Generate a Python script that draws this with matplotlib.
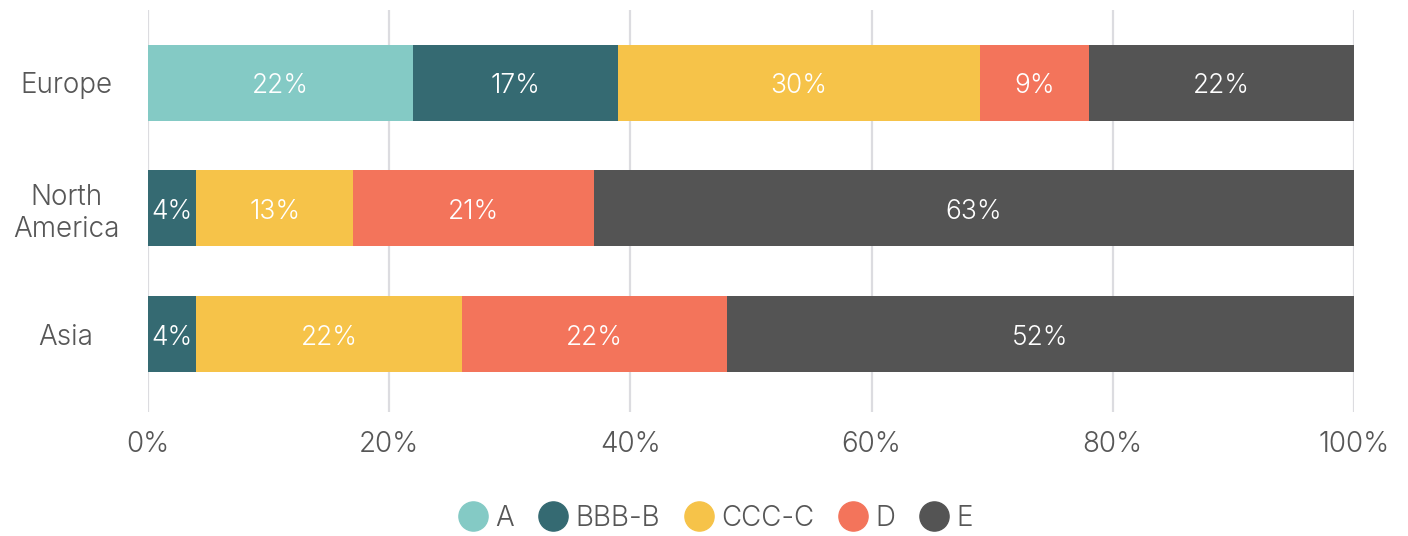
import matplotlib
matplotlib.use("Agg")
import matplotlib.pyplot as plt
from matplotlib.lines import Line2D
import numpy as np

FONT = ['Inter', 'DejaVu Sans']
W = 300
plt.rcParams['font.family'] = FONT

regions = ["Europe", "North\nAmerica", "Asia"]
series = ["A", "BBB-B", "CCC-C", "D", "E"]
values = {
    "A":     [22, 0, 0],
    "BBB-B": [17, 4, 4],
    "CCC-C": [30, 13, 22],
    "D":     [9, 20, 22],
    "E":     [22, 63, 52],
}
labels = {
    "A":     ["22%", "", ""],
    "BBB-B": ["17%", "4%", "4%"],
    "CCC-C": ["30%", "13%", "22%"],
    "D":     ["9%", "21%", "22%"],
    "E":     ["22%", "63%", "52%"],
}
colors = {"A": "#84CAC5", "BBB-B": "#356A72", "CCC-C": "#F6C349",
          "D": "#F3745B", "E": "#545454"}
xticks = [0, 20, 40, 60, 80, 100]
xticklabels = ["0%", "20%", "40%", "60%", "80%", "100%"]

fig = plt.figure(figsize=(14.08, 5.36), dpi=100)
ax = fig.add_axes([148/1408, 1-412/536, (1354-148)/1408, (412-10)/536])

y = np.arange(len(regions))
left = np.zeros(len(regions))
for s in series:
    v = np.array(values[s], dtype=float)
    ax.barh(y, v, left=left, height=0.605, color=colors[s], zorder=3)
    for i, (val, lab) in enumerate(zip(v, labels[s])):
        if val > 0 and lab:
            ax.annotate(lab, (left[i] + val/2, y[i]), xytext=(0, -2.5),
                        textcoords='offset points', ha='center', va='center',
                        color='white', fontsize=19, fontweight=W, zorder=4)
    left += v

ax.set_xlim(0, 100)
ax.set_ylim(2.62, -0.58)
ax.set_xticks(xticks)
ax.set_xticklabels(xticklabels, fontsize=20, fontweight=W, color='#575757')
ax.set_yticks(y)
ax.set_yticklabels(regions, fontsize=20, fontweight=W, color='#575757',
                   ha='center', linespacing=1.2)
ax.tick_params(axis='y', length=0, pad=59)
ax.tick_params(axis='x', length=0, pad=14)
for sp in ax.spines.values():
    sp.set_visible(False)
ax.xaxis.grid(True, color='#dcdce0', linewidth=1.6, zorder=0)
ax.set_axisbelow(True)

handles = [Line2D([0], [0], marker='o', linestyle='', markersize=21,
                  markerfacecolor=colors[s], markeredgecolor=colors[s])
           for s in series]
leg = fig.legend(handles, series, loc='center', bbox_to_anchor=(0.507, 1-518/536),
                 ncol=5, frameon=False, handletextpad=0.15, columnspacing=0.75,
                 handlelength=1.3,
                 prop={'family': FONT, 'size': 20, 'weight': W})
for t in leg.get_texts():
    t.set_color('#575757')

fig.savefig("out.png", dpi=100)
